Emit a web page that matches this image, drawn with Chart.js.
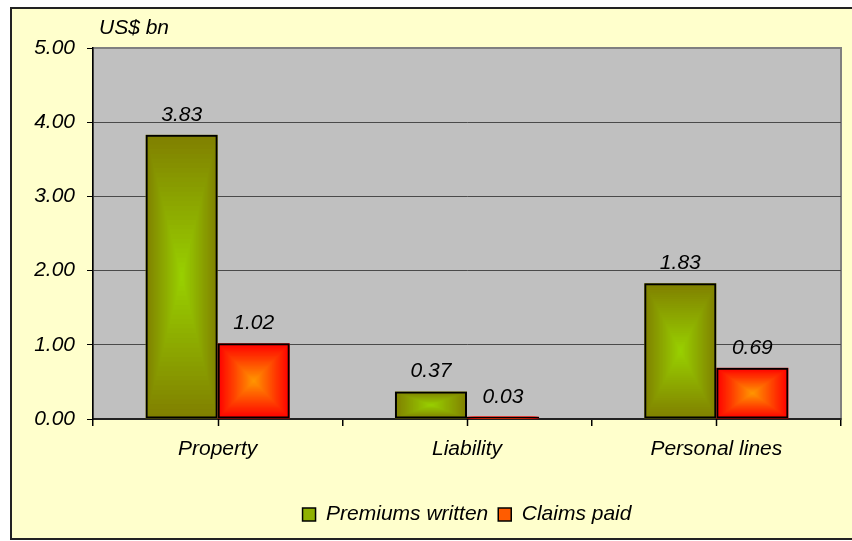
<!DOCTYPE html>
<html>
<head>
<meta charset="utf-8">
<script src="https://cdn.jsdelivr.net/npm/chart.js@4.4.1/dist/chart.umd.min.js"></script>
<style>
  html, body { margin: 0; padding: 0; background: #fff; overflow: hidden; }
  canvas { display: block; }
</style>
</head>
<body>
<canvas id="graphe" width="852" height="541"></canvas>
<script>
const categories = ['Property', 'Liability', 'Personal lines']
const primes = [3.83, 0.37, 1.83]
const sinistres = [1.02, 0.03, 0.69]
const yTicks = [0, 1, 2, 3, 4, 5]
const unite = 'US$ bn'

const police = 'Liberation Sans, Arial, sans-serif'
const taille = 21
Chart.defaults.font.family = police
Chart.defaults.font.size = taille
Chart.defaults.font.style = 'italic'
Chart.defaults.color = '#000'

// couleurs bord / centre des degradés
const degrades = [
  { bord: [128, 128, 0], centre: [153, 210, 0] },
  { bord: [255, 0, 0], centre: [255, 153, 0] }
]

function melange(a, b, t){
  return 'rgb(' + a.map((v, i) => Math.round(v + (b[i] - v) * t)).join(',') + ')'
}

const cadre = {
  id: 'cadre',
  beforeDraw(chart){
    const { ctx, chartArea: a } = chart
    ctx.save()
    ctx.fillStyle = '#fff'
    ctx.fillRect(0, 0, chart.width, chart.height)
    ctx.fillStyle = '#FFFFCC'
    ctx.fillRect(11, 8, chart.width, 531)
    ctx.strokeStyle = '#222'
    ctx.lineWidth = 2
    ctx.strokeRect(11, 8, chart.width, 531)
    ctx.fillStyle = '#C0C0C0'
    ctx.fillRect(a.left, a.top, a.right - a.left, a.bottom - a.top)
    ctx.strokeStyle = '#808080'
    ctx.lineWidth = 2
    ctx.strokeRect(a.left, a.top, a.right - a.left, a.bottom - a.top)
    ctx.restore()
  },
  beforeDatasetsDraw(chart){
    const ctx = chart.ctx
    chart.data.datasets.forEach((ds, d) => {
      const g = degrades[d]
      chart.getDatasetMeta(d).data.forEach(el => {
        const p = el.getProps(['x', 'y', 'base', 'width'], true)
        const cx = p.x, cy = (p.y + p.base) / 2
        const hw = p.width / 2, hh = Math.abs(p.base - p.y) / 2
        const n = 30
        ctx.save()
        for (let i = 0; i < n; i++){
          const t = i / n
          ctx.fillStyle = melange(g.bord, g.centre, t)
          ctx.fillRect(cx - hw * (1 - t), cy - hh * (1 - t), 2 * hw * (1 - t), 2 * hh * (1 - t))
        }
        ctx.restore()
      })
    })
  },
  afterDatasetsDraw(chart){
    const ctx = chart.ctx
    ctx.save()
    ctx.font = 'italic ' + taille + 'px ' + police
    ctx.fillStyle = '#000'
    ctx.textAlign = 'center'
    ctx.textBaseline = 'middle'
    chart.data.datasets.forEach((ds, d) => {
      chart.getDatasetMeta(d).data.forEach((el, i) => {
        const p = el.getProps(['x', 'y'], true)
        ctx.fillText(ds.data[i].toFixed(2), p.x, p.y - 20)
      })
    })
    ctx.restore()
  },
  afterDraw(chart){
    const { ctx, chartArea: a, scales } = chart
    ctx.save()
    ctx.font = 'italic ' + taille + 'px ' + police
    ctx.fillStyle = '#000'
    ctx.textAlign = 'left'
    ctx.textBaseline = 'middle'
    ctx.fillText(unite, a.left + 6, a.top - 20)
    // petites graduations au centre des categories
    ctx.strokeStyle = '#000'
    ctx.lineWidth = 1.5
    categories.forEach((c, i) => {
      const px = Math.round(scales.x.getPixelForValue(i)) + 0.5
      ctx.beginPath()
      ctx.moveTo(px, a.bottom)
      ctx.lineTo(px, a.bottom + 7)
      ctx.stroke()
    })
    ctx.restore()
  }
}

new Chart(document.getElementById('graphe'), {
  type: 'bar',
  data: {
    labels: categories,
    datasets: [
      {
        label: 'Premiums written',
        data: primes,
        backgroundColor: 'rgba(0,0,0,0)',
        borderColor: '#000',
        borderWidth: 2,
        borderSkipped: false
      },
      {
        label: 'Claims paid',
        data: sinistres,
        backgroundColor: 'rgba(0,0,0,0)',
        borderColor: '#000',
        borderWidth: 2,
        borderSkipped: false
      }
    ]
  },
  options: {
    responsive: false,
    animation: false,
    devicePixelRatio: 1,
    datasets: { bar: { categoryPercentage: 0.578, barPercentage: 1 } },
    layout: { padding: { left: 12, right: 11, top: 48, bottom: 6 } },
    scales: {
      x: {
        afterFit: s => { s.height = 75 },
        grid: { offset: true, drawOnChartArea: false, drawTicks: true, tickLength: 7, color: '#000', lineWidth: 1.5 },
        border: { display: true, color: '#222', width: 2 },
        ticks: { padding: 11, color: '#000' }
      },
      y: {
        min: 0,
        max: 5,
        afterFit: s => { s.width = 81 },
        afterBuildTicks: s => { s.ticks = yTicks.map(v => ({ value: v })) },
        grid: {
          color: c => (c.tick && c.tick.value === 5) ? '#808080' : '#4a4a4a',
          lineWidth: 1,
          tickLength: 6,
          tickColor: '#000'
        },
        border: { display: true, color: '#000', width: 1.5 },
        ticks: { padding: 12, color: '#000', callback: v => Number(v).toFixed(2) }
      }
    },
    plugins: {
      tooltip: { enabled: false },
      legend: {
        position: 'bottom',
        fullSize: false,
        labels: {
          boxWidth: 13,
          boxHeight: 13,
          padding: 10,
          color: '#000',
          font: { size: taille, style: 'italic' },
          generateLabels: chart => chart.data.datasets.map((ds, d) => ({
            text: ds.label,
            fillStyle: melange(degrades[d].bord, degrades[d].centre, 0.6),
            strokeStyle: '#000',
            lineWidth: 1.5,
            datasetIndex: d
          }))
        }
      }
    }
  },
  plugins: [cadre]
})
</script>
</body>
</html>
